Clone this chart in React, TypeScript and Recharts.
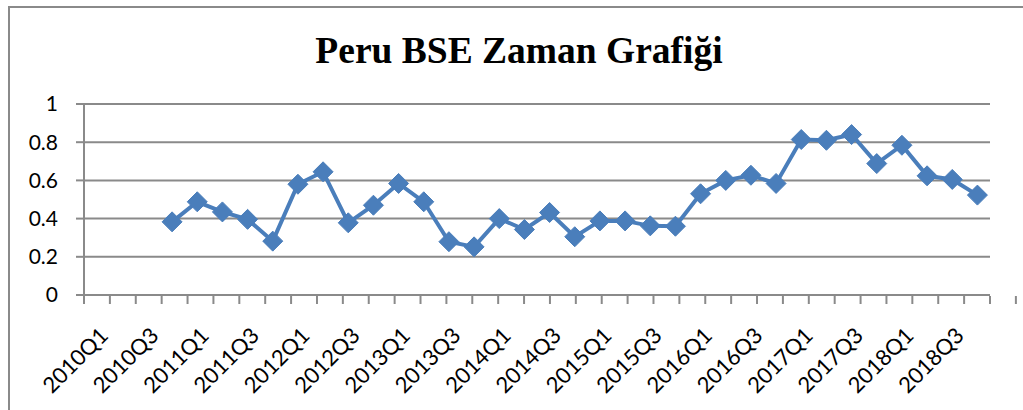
import { CartesianGrid, Line, LineChart, XAxis, YAxis } from "recharts";

const quarters = [
    "2010Q1", "2010Q2", "2010Q3", "2010Q4",
    "2011Q1", "2011Q2", "2011Q3", "2011Q4",
    "2012Q1", "2012Q2", "2012Q3", "2012Q4",
    "2013Q1", "2013Q2", "2013Q3", "2013Q4",
    "2014Q1", "2014Q2", "2014Q3", "2014Q4",
    "2015Q1", "2015Q2", "2015Q3", "2015Q4",
    "2016Q1", "2016Q2", "2016Q3", "2016Q4",
    "2017Q1", "2017Q2", "2017Q3", "2017Q4",
    "2018Q1", "2018Q2", "2018Q3", "2018Q4",
];

const bseValues: (number | null)[] = [
    null, null, null, 0.383,
    0.488, 0.435, 0.396, 0.282,
    0.58, 0.645, 0.378, 0.47,
    0.584, 0.488, 0.279, 0.252,
    0.40, 0.343, 0.432, 0.305,
    0.388, 0.388, 0.362, 0.36,
    0.53, 0.60, 0.627, 0.584,
    0.814, 0.81, 0.84, 0.688,
    0.784, 0.624, 0.605, 0.523,
];

const yTicks = [0, 0.2, 0.4, 0.6, 0.8, 1];
const boundaryTicks = quarters.map((_, i) => i).concat([quarters.length]);

const chartData = quarters.map((q, i) => ({ quarter: q, bse: bseValues[i] }));

const BLUE = "#4a7ebb";
const GRAY = "#8a8a8a";

const Diamond = (props: any) => {
    const { cx, cy, value } = props;
    if (value == null || cx == null || cy == null) return null;
    const r = 10;
    return (
        <path
            d={`M${cx},${cy - r}L${cx + r},${cy}L${cx},${cy + r}L${cx - r},${cy}Z`}
            fill={BLUE}
            stroke={BLUE}
        />
    );
};

const NoLabel = () => <g />;

const QuarterTick = (props: any) => {
    const { x, y, payload } = props;
    const idx = payload.index ?? props.index;
    if (idx % 2 !== 0) return null;
    return (
        <text
            transform={`translate(${x + 13},${y + 34}) rotate(-45)`}
            textAnchor="end"
            fontFamily="Lato, sans-serif"
            fontSize={22}
            fill="#000"
        >
            {payload.value}
        </text>
    );
};

export default function App() {
    return (
        <div>
            <style>{`body{margin:0;overflow:hidden;}`}</style>
            <div
                style={{
                    position: "absolute",
                    left: 8,
                    top: 6,
                    width: 1015,
                    height: 404,
                    borderLeft: `2px solid ${GRAY}`,
                    borderTop: `2px solid ${GRAY}`,
                    boxSizing: "border-box",
                }}
            >
                <div
                    style={{
                        position: "absolute",
                        left: -10,
                        top: 21,
                        width: 1038,
                        textAlign: "center",
                        fontFamily: "'Liberation Serif', 'Times New Roman', serif",
                        fontWeight: "bold",
                        fontSize: 37.5,
                    }}
                >
                    Peru BSE Zaman Grafiği
                </div>
                <LineChart
                    width={1013}
                    height={402}
                    data={chartData}
                    margin={{ top: 96, right: 33, left: 0, bottom: 113 }}
                >
                    <CartesianGrid xAxisId="labels" vertical={false} stroke={GRAY} strokeWidth={2} />
                    <XAxis
                        xAxisId="marks"
                        type="number"
                        domain={[0, quarters.length]}
                        ticks={boundaryTicks}
                        interval={0}
                        allowDataOverflow
                        height={1}
                        tick={<NoLabel />}
                        tickSize={8}
                        tickLine={{ stroke: GRAY, strokeWidth: 2 }}
                        axisLine={false}
                    />
                    <XAxis
                        xAxisId="labels"
                        dataKey="quarter"
                        scale="band"
                        interval={0}
                        height={1}
                        axisLine={false}
                        tickLine={false}
                        tick={<QuarterTick />}
                    />
                    <YAxis
                        domain={[0, 1]}
                        ticks={yTicks}
                        width={74}
                        tickSize={8}
                        tickMargin={18}
                        tickLine={{ stroke: GRAY, strokeWidth: 2 }}
                        axisLine={{ stroke: GRAY, strokeWidth: 2 }}
                        tick={{ fill: "#000", fontSize: 21, fontFamily: "Lato, sans-serif" }}
                    />
                    <Line
                        xAxisId="labels"
                        type="linear"
                        dataKey="bse"
                        stroke={BLUE}
                        strokeWidth={4}
                        dot={<Diamond />}
                        activeDot={false}
                        isAnimationActive={false}
                    />
                </LineChart>
            </div>
        </div>
    );
}
